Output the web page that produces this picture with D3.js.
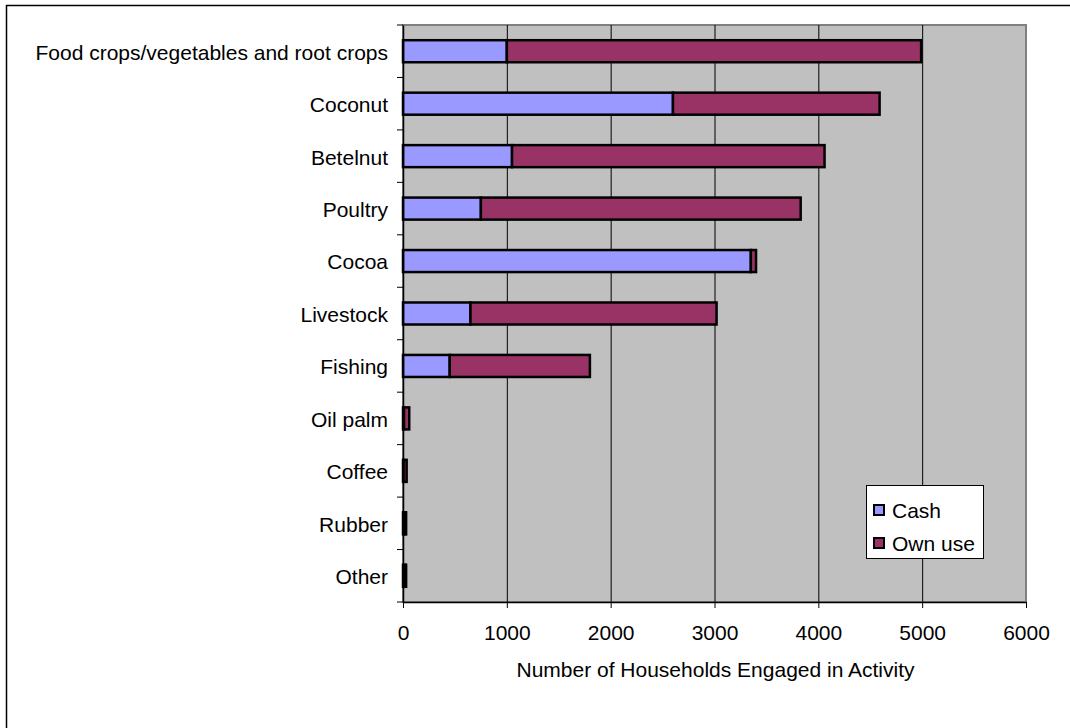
<!DOCTYPE html>
<html><head><meta charset="utf-8">
<script src="https://cdn.jsdelivr.net/npm/d3@7"></script>
<style>body{margin:0;background:#fff;} svg{display:block;font-family:"Liberation Sans",Arial,sans-serif;}</style>
</head><body>
<svg id="c" width="1070" height="728"></svg>
<script>
const categories = ["Food crops/vegetables and root crops","Coconut","Betelnut","Poultry","Cocoa","Livestock","Fishing","Oil palm","Coffee","Rubber","Other"];
const cashValues = [1000, 2600, 1050, 750, 3350, 650, 450, 10, 5, 20, 20];
const ownUseValues = [3990, 1990, 3010, 3080, 50, 2370, 1350, 50, 30, 10, 10];
const seriesNames = ["Cash", "Own use"];
const seriesColors = ["#9999ff", "#993366"];
const xTicks = [0,1000,2000,3000,4000,5000,6000];
const xTitle = "Number of Households Engaged in Activity";

const FS = 21;
const svg = d3.select("#c");
svg.append("rect").attr("x",6.5).attr("y",5.5).attr("width",1080).attr("height",760)
  .attr("fill","#fff").attr("stroke","#000").attr("stroke-width",1.5);

const L=403, R=1026, T=25, B=602;
const x = d3.scaleLinear().domain([0,6000]).range([L,R]);
const y = d3.scaleBand().domain(categories).range([T,B]).paddingInner(0.58).paddingOuter(0.29);

svg.append("rect").attr("x",L).attr("y",T).attr("width",R-L).attr("height",B-T)
  .attr("fill","#c0c0c0").attr("stroke","#808080").attr("stroke-width",2);

svg.append("g").selectAll("line").data(xTicks.slice(1,-1)).join("line")
  .attr("x1",d=>x(d)+0.5).attr("x2",d=>x(d)+0.5).attr("y1",T).attr("y2",B)
  .attr("stroke","#000").attr("stroke-width",1);

const data = categories.map((c,i)=>({cat:c, Cash:cashValues[i], "Own use":ownUseValues[i]}));
const stack = d3.stack().keys(seriesNames)(data);
svg.append("g").selectAll("g").data(stack).join("g")
  .attr("fill",(d,i)=>seriesColors[i])
  .selectAll("rect").data(d=>d).join("rect")
  .attr("x",d=>x(d[0])).attr("width",d=>x(d[1])-x(d[0]))
  .attr("y",d=>y(d.data.cat)).attr("height",y.bandwidth())
  .attr("stroke","#000").attr("stroke-width",2.5);

const xAxis = d3.axisBottom(x).tickValues(xTicks).tickSize(6).tickSizeOuter(0).tickFormat(d3.format("d"));
const gx = svg.append("g").attr("transform",`translate(0,${B})`).call(xAxis);
gx.select(".domain").attr("stroke","#000").attr("stroke-width",1.5);
gx.selectAll(".tick line").attr("stroke","#000");
gx.selectAll(".tick text").attr("font-size",FS).attr("font-family","Liberation Sans, Arial").attr("fill","#000").attr("y",23).attr("dy","0.71em");

const gy = svg.append("g").attr("transform",`translate(${L},0)`).call(d3.axisLeft(y).tickSize(0).tickSizeOuter(0));
gy.select(".domain").attr("stroke","#000").attr("stroke-width",1.5);
gy.selectAll(".tick text").attr("font-size",FS).attr("font-family","Liberation Sans, Arial").attr("fill","#000").attr("x",-15).attr("dy","0.4em");
const bounds = d3.range(categories.length+1).map(i=>T+i*(B-T)/categories.length);
svg.append("g").selectAll("line").data(bounds).join("line")
  .attr("x1",L-6).attr("x2",L).attr("y1",d=>d).attr("y2",d=>d).attr("stroke","#000");

svg.append("text").attr("x",(L+R)/2+1).attr("y",677).attr("text-anchor","middle")
  .attr("font-size",FS).text(xTitle);

const lg = svg.append("g");
lg.append("rect").attr("x",866.5).attr("y",485.5).attr("width",117).attr("height",73)
  .attr("fill","#fff").attr("stroke","#000").attr("stroke-width",1);
seriesNames.forEach((s,i)=>{
  const yy = 511 + i*33;
  lg.append("rect").attr("x",874).attr("y",yy-6).attr("width",10).attr("height",10)
    .attr("fill",seriesColors[i]).attr("stroke","#000").attr("stroke-width",2);
  lg.append("text").attr("x",892).attr("y",yy+7).attr("font-size",FS).text(s);
});
</script>
</body></html>
